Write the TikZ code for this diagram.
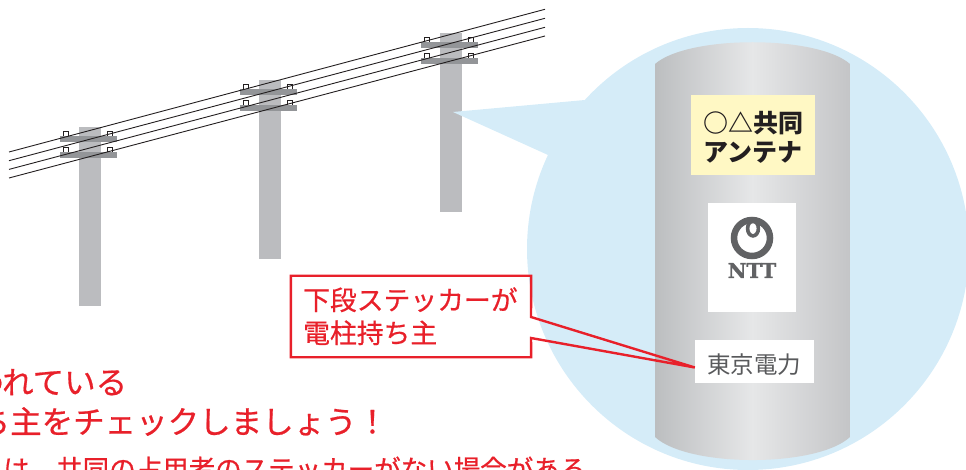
\documentclass[tikz,border=0pt]{standalone}
\usepackage{fontspec}
\newfontfamily\jp{Noto Sans CJK JP}
\newfontfamily\jpmed{Noto Sans CJK JP}[FakeBold=0.6]
\newfontfamily\slab{DejaVu Serif}[FakeBold=1.2]
\definecolor{polegray}{HTML}{BBBCBF}
\definecolor{armgray}{HTML}{939598}
\definecolor{wireblk}{HTML}{231F20}
\definecolor{bubble}{HTML}{D5ECF8}
\definecolor{alertred}{HTML}{E8202A}
\definecolor{notepad}{HTML}{FFF8C4}
\definecolor{logogray}{HTML}{616264}
\definecolor{labelgray}{HTML}{58595B}
\definecolor{cylleft}{HTML}{BCBEC0}
\definecolor{cylmid}{HTML}{E6E7E8}
\definecolor{cylright}{HTML}{C4C5C7}
\tikzset{
  polebody/.style={fill=polegray},
  arm/.style={fill=armgray},
  insul/.style={draw=wireblk, line width=0.7pt, fill=white},
  wire/.style={draw=wireblk, line width=0.9pt},
  sticker/.style={fill=white, draw=none, inner sep=0pt},
  txt/.style={inner sep=0pt, anchor=base west},
  redbig/.style={txt, text=alertred, font=\jpmed\fontsize{31.5}{36}\selectfont},
  rednote/.style={txt, text=alertred, font=\jpmed\fontsize{26.5}{31}\selectfont},
  calltxt/.style={txt, text=alertred, font=\jpmed\fontsize{26.8}{31}\selectfont},
  callline/.style={draw=alertred, line width=2.4pt, line join=miter},
}
\begin{document}
\begin{tikzpicture}[x=1pt, y=-1pt]
\useasboundingbox (0,0) rectangle (966,470);
\clip (0,0) rectangle (966,470);

% --- utility poles with cross-arms and insulators
\foreach \px/\top/\bot/\ay in {79/127/306/136, 259/80/259/89, 440/33/212/42}{
  \fill[polebody] (\px,\top) rectangle (\px+22,\bot);
  \fill[arm] (\px-19,\ay) rectangle (\px+38,\ay+6.5);
  \fill[arm] (\px-19,\ay+16) rectangle (\px+38,\ay+22.5);
  \foreach \ix in {\px-13.5,\px+30.5}{
    \draw[insul] (\ix-2.5,\ay) -- (\ix-2.5,\ay-5) -- (\ix+2.5,\ay-5) -- (\ix+2.5,\ay);
    \draw[insul] (\ix-2.5,\ay+16) -- (\ix-2.5,\ay+11) -- (\ix+2.5,\ay+11) -- (\ix+2.5,\ay+16);
  }
}

% --- overhead wires
\coordinate (wl1) at (9,152);   \coordinate (wr1) at (545,9.3);
\coordinate (wl2) at (9,160.7); \coordinate (wr2) at (545,18.3);
\coordinate (wl3) at (9,169.4); \coordinate (wr3) at (545,27.3);
\coordinate (wl4) at (9,178);   \coordinate (wr4) at (545,36);
\foreach \i in {1,...,4}{ \draw[wire] (wl\i) -- (wr\i); }

% --- magnifier bubble
\fill[bubble] (453,112) -- (585,100) -- (548,155) -- cycle;
\fill[bubble] (748,249) circle[radius=221pt];

% --- close-up of the pole (cylindrical shading)
\shade[left color=cylleft, right color=cylright, middle color=cylmid]
  (655,64) .. controls (688,35) and (817,35) .. (850,64)
  -- (850,437) .. controls (817,467.7) and (688,467.7) .. (655,437) -- cycle;

% shared antenna sticker
\node[sticker, fill=notepad, minimum width=124pt, minimum height=80pt] (antenna) at (753,135) {};
\node[txt, font=\jp\bfseries\fontsize{25}{30}\selectfont, text=wireblk] (antl1) at (703,133) {○△共同};
\node[txt, font=\jp\bfseries\fontsize{25}{30}\selectfont, text=wireblk] (antl2) at (703,162) {アンテナ};

% NTT sticker
\node[sticker, minimum width=88pt, minimum height=109pt] (ntt) at (752,257.5) {};
\draw[logogray, line width=6.5pt] (752,238) circle[radius=18pt];
\draw[logogray, line width=3.6pt] (753,228.5) ellipse[x radius=5.4pt, y radius=7.4pt];
\node[inner sep=0pt, anchor=base, text=logogray, font=\slab\bfseries\fontsize{20.5}{22}\selectfont] (nttname) at (752,278) {NTT};

% power company sticker
\node[sticker, minimum width=119pt, minimum height=43pt] (tepco) at (754.5,361.5) {};
\node[txt, text=labelgray, font=\jp\fontsize{23.5}{28}\selectfont] (tepconame) at (707,373) {東京電力};

% --- callout naming the owner
\node[inner sep=0pt, minimum width=240pt, minimum height=81pt] (cb) at (411,316.5) {};
\coordinate (tip) at (tepco.west);
\coordinate (cbu) at (531,317);
\coordinate (cbd) at (531,338);
\draw[callline] (cb.north west) -- (cb.north east) -- (cbu) -- ([yshift=-6pt]tip) -- (cbd) -- (cb.south east) -- (cb.south west) -- cycle;
\node[calltxt] (cl1) at (303,310) {下段ステッカーが};
\node[calltxt] (cl2) at (303,343) {電柱持ち主};

% --- notes along the bottom
\node[redbig] (n1) at (-28,394) {われている};
\node[redbig] (n2) at (-21.5,433.5) {ち主をチェックしましょう！};
\node[rednote] (n3) at (3,479) {は、共同の占用者のステッカーがない場合がある};
\end{tikzpicture}
\end{document}
